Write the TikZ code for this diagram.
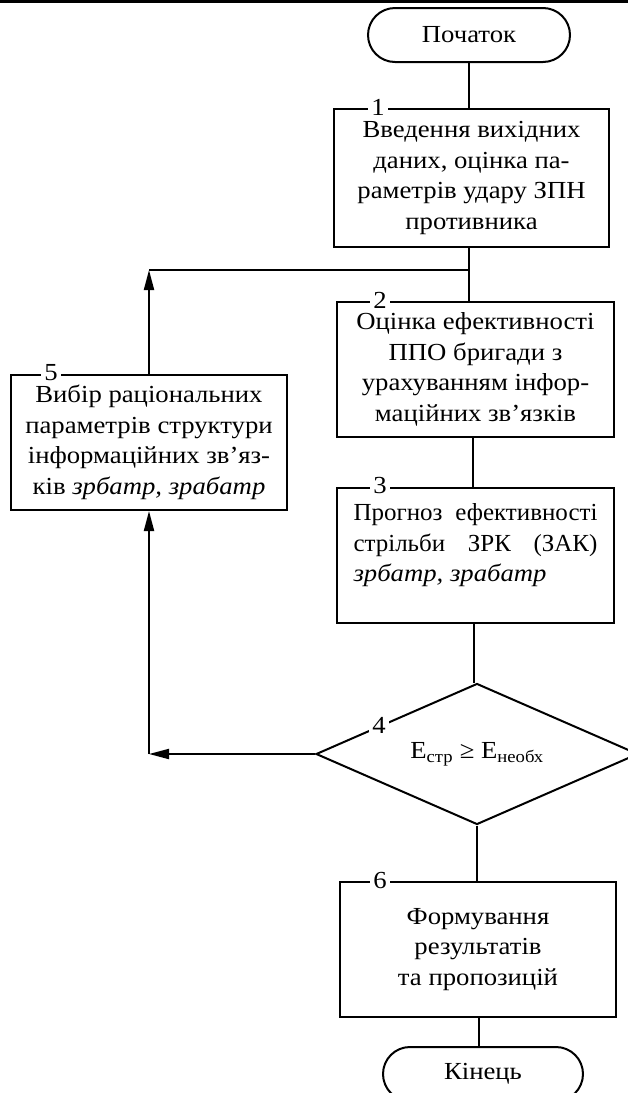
\documentclass[tikz,border=0pt]{standalone}
\usepackage{fontspec}
\setmainfont{Liberation Serif}[FakeStretch=1.09]
\newfontfamily\boxthreefont{Liberation Serif}[FakeStretch=1.02]
\usetikzlibrary{arrows.meta,shapes.geometric}
\begin{document}
\begin{tikzpicture}[x=1pt,y=-1pt,
  every node/.style={font=\fontsize{24.5}{30.5}\selectfont},
  box/.style={draw,line width=2pt,minimum width=276pt,minimum height=135pt,align=center,inner sep=0pt},
  term/.style={draw,line width=2pt,rounded corners=27pt,minimum width=202pt,minimum height=54pt,inner sep=0pt},
  num/.style={fill=white,inner sep=3pt},
  conn/.style={line width=2pt},
  arr/.style={line width=2pt,-{Triangle[length=20pt,width=10pt]}}]
\useasboundingbox (0,0) rectangle (628,1093);
\fill (0,0) rectangle (628,2.5);

\node[term] (start) at (469,35) {Початок};
\node[box,minimum width=275pt,minimum height=138pt] (b1) at (471.5,178)
  {Введення вихідних\\даних, оцінка па-\\раметрів удару ЗПН\\противника};
\node[box,minimum width=277pt] (b2) at (475.5,369.5)
  {Оцінка ефективності\\ППО бригади з\\урахуванням інфор-\\маційних зв’язків};
\node[box,minimum width=277pt,align=left] (b3) at (475.5,555.5)
  {\makebox[244pt][s]{\boxthreefont Прогноз ефективності}\\\makebox[244pt][s]{\boxthreefont стрільби ЗРК (ЗАК)}\\\textit{зрбатр, зрабатр}\\[-14pt]\strut};
\node[box] (b5) at (149,442.5)
  {Вибір раціональних\\параметрів структури\\інформаційних зв’яз-\\ків \textit{зрбатр, зрабатр}};
\node[diamond,draw,line width=2pt,minimum width=322pt,minimum height=141pt,aspect=2.28,inner sep=0pt] (d) at (477,754)
  {E\textsubscript{стр} ≥ E\textsubscript{необх}};
\node[box] (b6) at (478,949.5)
  {Формування\\результатів\\та пропозицій};
\node[term,minimum width=200pt] (end) at (483,1074) {Кінець};

\coordinate (j1) at (b5.north |- 0,270);
\coordinate (j2) at (b5.south |- d.west);

\draw[conn] (start) -- (start |- b1.north);
\draw[conn] (b1.south -| start) -- (start |- b2.north);
\draw[conn] (j1) -- (start |- j1);
\draw[arr] (b5.north) -- (j1);
\draw[conn] (b2.south -| 473,0) -- (473,0 |- b3.north);
\draw[conn] (b3.south -| 474,0) -- (474,0 |- d.north);
\draw[arr] (d.west) -- (j2);
\draw[arr] (j2) -- (b5.south);
\draw[conn] (d.south) -- (d.south |- b6.north);
\draw[conn] (b6.south -| 479,0) -- (479,0 |- end.north);

\node[num] (n1) at (378,107) {1};
\node[num] (n2) at (380,300) {2};
\node[num] (n3) at (380,486) {3};
\node[num] (n5) at (51,373) {5};
\node[num] (n6) at (380,880) {6};
\node[num] (n4) at (379,725) {4};
\end{tikzpicture}
\end{document}
